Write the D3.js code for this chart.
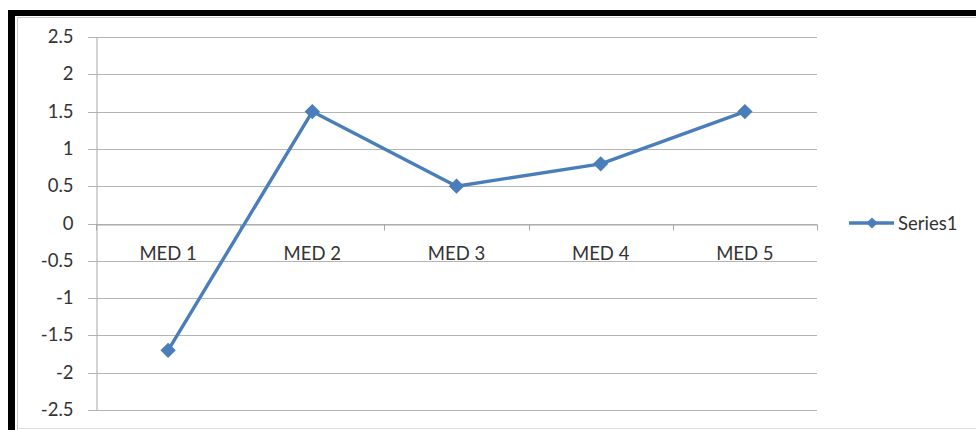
<!DOCTYPE html>
<html>
<head>
<meta charset="utf-8">
<script src="https://cdn.jsdelivr.net/npm/d3@7"></script>
<style>
  body { margin: 0; background: #fff; }
  text { font-family: Lato, "Open Sans", sans-serif; fill: #333; }
</style>
</head>
<body>
<div id="chart"></div>
<script>
// data
var categories = ["MED 1", "MED 2", "MED 3", "MED 4", "MED 5"];
var series1 = [-1.7, 1.5, 0.5, 0.8, 1.5];
var yTicks = [-2.5, -2, -1.5, -1, -0.5, 0, 0.5, 1, 1.5, 2, 2.5];
var seriesName = "Series1";

var W = 976, H = 430;
var plot = {left: 96, right: 817, top: 37, bottom: 410};
var blue = "#4a7ebb";
var fontSize = "18.5px";

var svg = d3.select("#chart")
  .append("svg")
    .attr("width", W)
    .attr("height", H);

// frame (thick black top/left, thin grey inner lines)
svg.append("rect").attr("x", 8).attr("y", 10).attr("width", W - 8).attr("height", 6).attr("fill", "#000");
svg.append("rect").attr("x", 8).attr("y", 10).attr("width", 7).attr("height", H - 10).attr("fill", "#000");
svg.append("line").attr("x1", 17).attr("x2", W).attr("y1", 17.5).attr("y2", 17.5).style("stroke", "#c8c8c8");
svg.append("line").attr("x1", 17.5).attr("x2", 17.5).attr("y1", 17).attr("y2", H).style("stroke", "#c8c8c8");
svg.append("line").attr("x1", 17).attr("x2", W).attr("y1", 428.5).attr("y2", 428.5).style("stroke", "#e0e0e0");

// scales
var x = d3.scaleBand()
  .domain(categories)
  .range([plot.left, plot.right]);

var y = d3.scaleLinear()
  .domain([-2.5, 2.5])
  .range([plot.bottom, plot.top]);

// gridlines
svg.append("g")
  .selectAll("line")
  .data(yTicks)
  .enter().append("line")
    .attr("x1", plot.left - 8)
    .attr("x2", plot.right)
    .attr("y1", d => Math.round(y(d)) + 0.5)
    .attr("y2", d => Math.round(y(d)) + 0.5)
    .style("stroke", "#b4b4b4")
    .style("stroke-width", 1.2);

// y axis
var yAxis = svg.append("g")
  .attr("transform", `translate(${plot.left + 0.5},0)`)
  .call(d3.axisLeft(y).tickValues(yTicks).tickSize(8).tickPadding(15).tickFormat(d => String(d)));
yAxis.select(".domain").style("stroke", "#a8a8a8");
yAxis.selectAll(".tick line").style("stroke", "#b4b4b4");
yAxis.selectAll("text").style("font-size", fontSize).style("fill", "#333");
yAxis.selectAll(".tick").attr("transform", d => `translate(0,${Math.round(y(d)) + 0.5})`);

// x axis at zero
var y0 = Math.round(y(0)) + 0.5;
var xAxis = svg.append("g")
  .attr("transform", `translate(0,${y0})`)
  .call(d3.axisBottom(x).tickSize(0).tickPadding(22));
xAxis.select(".domain").style("stroke", "#a8a8a8");
xAxis.selectAll("text").style("font-size", fontSize).style("fill", "#333");

// x boundary ticks
var bounds = categories.map(c => x(c)).concat([plot.right]);
svg.append("g")
  .selectAll("line")
  .data(bounds)
  .enter().append("line")
    .attr("x1", d => Math.round(d) + 0.5)
    .attr("x2", d => Math.round(d) + 0.5)
    .attr("y1", y0)
    .attr("y2", y0 + 6)
    .style("stroke", "#a8a8a8");

// series line
var line = d3.line()
  .x((d, i) => x(categories[i]) + x.bandwidth() / 2)
  .y(d => y(d));

svg.append("path")
  .datum(series1)
  .attr("d", line)
  .attr("fill", "none")
  .style("stroke", blue)
  .style("stroke-width", 3.4)
  .style("stroke-linejoin", "round");

var diamond = d3.symbol().type(d3.symbolDiamond2).size(150);
svg.append("g")
  .selectAll("path")
  .data(series1)
  .enter().append("path")
    .attr("d", diamond)
    .attr("transform", (d, i) => `translate(${x(categories[i]) + x.bandwidth() / 2},${y(d)})`)
    .attr("fill", blue);

// legend
var legend = svg.append("g").attr("transform", "translate(849,223)");
legend.append("line")
  .attr("x1", 0).attr("x2", 45)
  .style("stroke", blue)
  .style("stroke-width", 3.4);
legend.append("path")
  .attr("d", d3.symbol().type(d3.symbolDiamond2).size(80))
  .attr("transform", "translate(23,0)")
  .attr("fill", blue);
legend.append("text")
  .attr("x", 49)
  .attr("y", 6.5)
  .style("font-size", fontSize)
  .text(seriesName);
</script>
</body>
</html>
